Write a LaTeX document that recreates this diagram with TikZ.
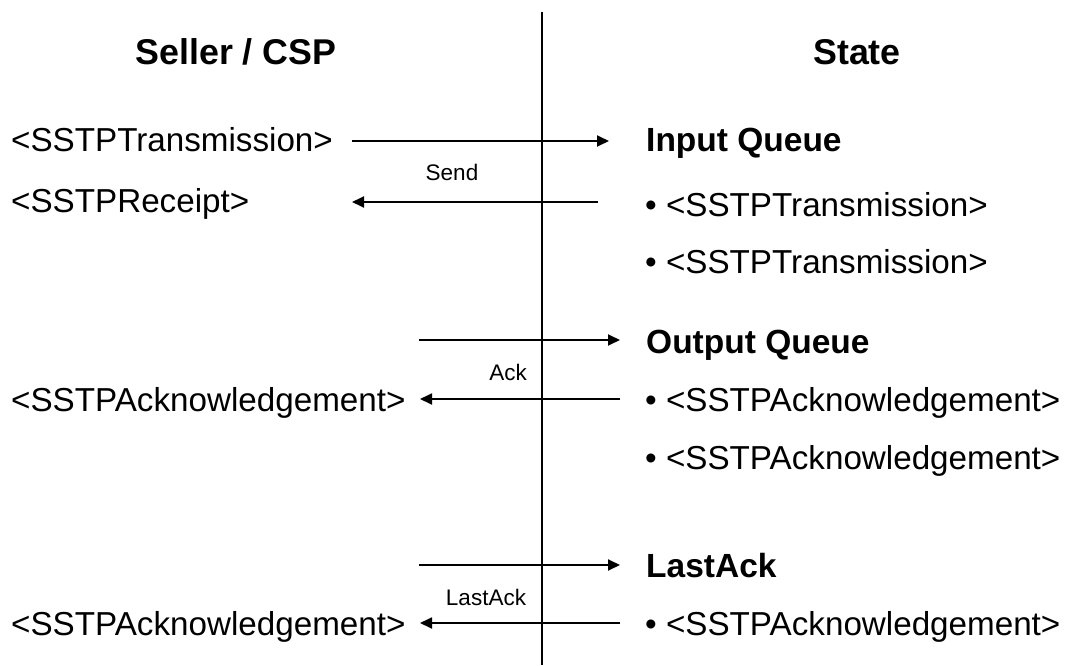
\documentclass[tikz,border=0pt]{standalone}
\usepackage{fontspec}
\setmainfont{Liberation Sans}
\usetikzlibrary{arrows.meta}
\tikzset{
  txt/.style={inner sep=0pt, anchor=base west, font=\fontsize{33.2}{40}\selectfont},
  ttl/.style={inner sep=0pt, anchor=base, font=\fontsize{35.8}{42}\selectfont\bfseries},
  hdr/.style={inner sep=0pt, anchor=base west, font=\fontsize{33.5}{40}\selectfont\bfseries},
  lbl/.style={inner sep=0pt, font=\fontsize{22.5}{27}\selectfont},
  msg/.style={line width=1.8pt, -{Triangle[length=12pt,width=11pt]}},
  divider/.style={line width=1.8pt}
}
\begin{document}
\begin{tikzpicture}[x=1pt,y=-1pt]
\useasboundingbox (0,0) rectangle (1066,666);
% divider
\coordinate (top) at (542,12);
\coordinate (bot) at (542,665);
\draw[divider] (top) -- (bot);
% titles
\node[ttl] (seller) at (236,65) {Seller / CSP};
\node[ttl] (state) at (857,65) {State};
% left column
\node[txt] (trans) at (11,152) {<SSTPTransmission>};
\node[txt] (receipt) at (11,212) {<SSTPReceipt>};
\node[txt] (ack1) at (11,411) {<SSTPAcknowledgement>};
\node[txt] (ack2) at (11,635) {<SSTPAcknowledgement>};
% right column
\node[hdr] (inq) at (646,152) {Input Queue};
\node[txt] (inq1) at (645,216) {• <SSTPTransmission>};
\node[txt] (inq2) at (645,273) {• <SSTPTransmission>};
\node[hdr] (outq) at (646,353) {Output Queue};
\node[txt] (outq1) at (645,411) {• <SSTPAcknowledgement>};
\node[txt] (outq2) at (645,469) {• <SSTPAcknowledgement>};
\node[hdr] (last) at (646,577) {LastAck};
\node[txt] (last1) at (645,635) {• <SSTPAcknowledgement>};
% arrow end points
\coordinate (s1a) at (352,141); \coordinate (s1b) at (609,141);
\coordinate (s2a) at (598,202); \coordinate (s2b) at (352,202);
\coordinate (a1a) at (419,340); \coordinate (a1b) at (620,340);
\coordinate (a2a) at (620,399); \coordinate (a2b) at (420,399);
\coordinate (l1a) at (419,565); \coordinate (l1b) at (620,565);
\coordinate (l2a) at (620,623); \coordinate (l2b) at (420,623);
\draw[msg] (s1a) -- (s1b);
\draw[msg] (s2a) -- (s2b);
\draw[msg] (a1a) -- (a1b);
\draw[msg] (a2a) -- (a2b);
\draw[msg] (l1a) -- (l1b);
\draw[msg] (l2a) -- (l2b);
% labels
\node[lbl] (send) at (452,172) {Send};
\node[lbl] (ack) at (508,372) {Ack};
\node[lbl] (lastack) at (486,597) {LastAck};
\end{tikzpicture}
\end{document}
